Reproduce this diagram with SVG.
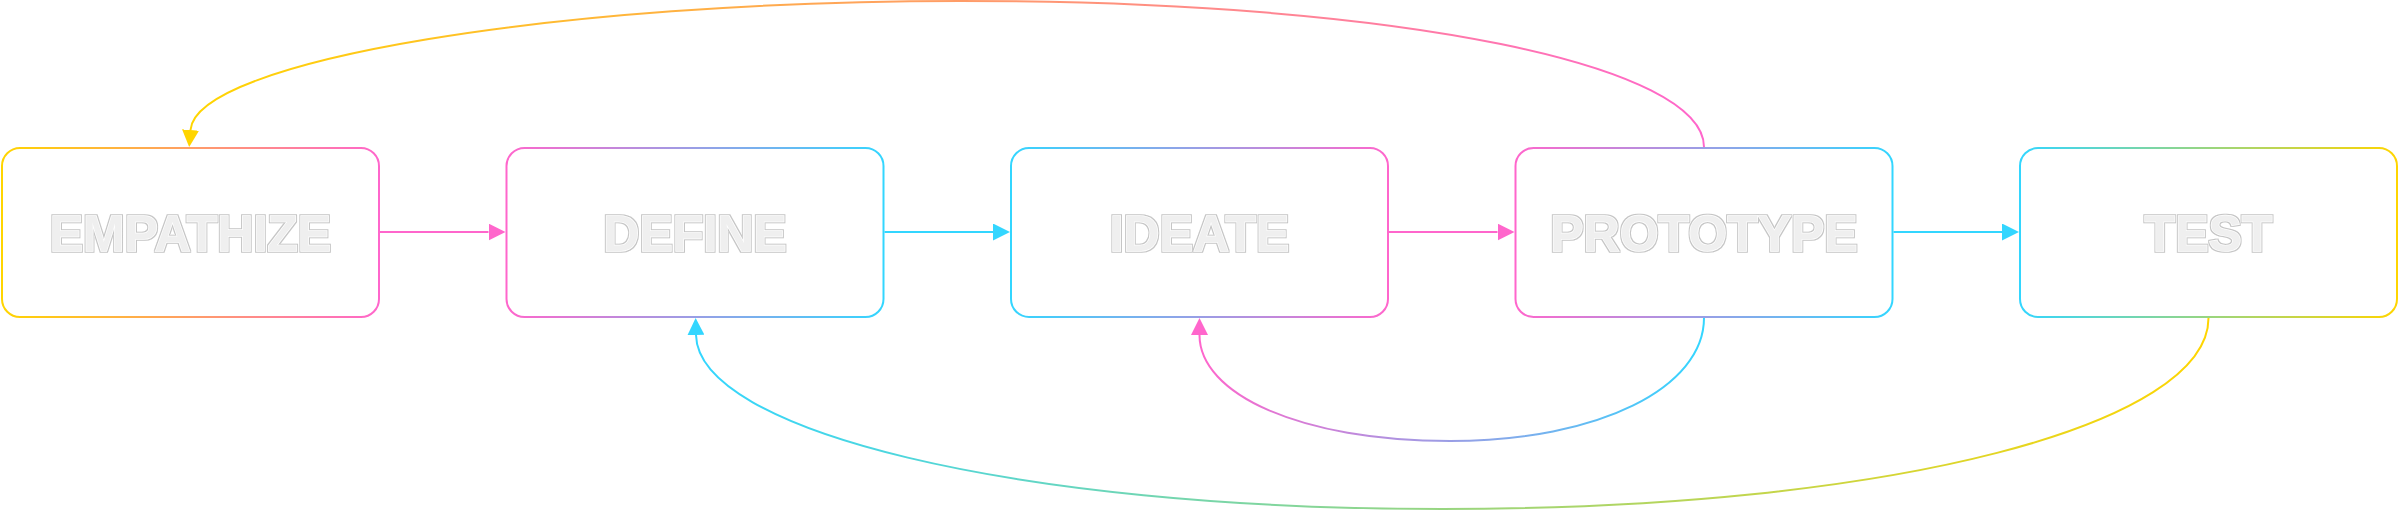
<svg xmlns="http://www.w3.org/2000/svg" width="2400" height="511" viewBox="0 0 2400 511">
  <style>
    .box { fill: #ffffff; stroke-width: 2; }
    .lbl { font-family: "Liberation Sans", Arial, sans-serif; font-weight: 700; font-size: 50px; text-anchor: middle; fill: #efefef; stroke: #ffffff; stroke-width: 1.4; paint-order: stroke; filter: url(#outline); }
    .conn { fill: none; stroke-width: 2; }
  </style>
  <defs>
    <linearGradient id="gYP" x1="0" y1="0" x2="1" y2="0"><stop offset="0" stop-color="#FFD500"/><stop offset="1" stop-color="#FF66CC"/></linearGradient>
    <linearGradient id="gPC" x1="0" y1="0" x2="1" y2="0"><stop offset="0" stop-color="#FF66CC"/><stop offset="1" stop-color="#33D6FF"/></linearGradient>
    <linearGradient id="gCP" x1="0" y1="0" x2="1" y2="0"><stop offset="0" stop-color="#33D6FF"/><stop offset="1" stop-color="#FF66CC"/></linearGradient>
    <linearGradient id="gCY" x1="0" y1="0" x2="1" y2="0"><stop offset="0" stop-color="#33D6FF"/><stop offset="1" stop-color="#FFD500"/></linearGradient>
    <linearGradient id="gTop" gradientUnits="userSpaceOnUse" x1="190" y1="0" x2="1704" y2="0"><stop offset="0" stop-color="#FFD500"/><stop offset="1" stop-color="#FF66CC"/></linearGradient>
    <linearGradient id="gInner" gradientUnits="userSpaceOnUse" x1="1199" y1="0" x2="1704" y2="0"><stop offset="0" stop-color="#FF66CC"/><stop offset="1" stop-color="#33D6FF"/></linearGradient>
    <linearGradient id="gOuter" gradientUnits="userSpaceOnUse" x1="696" y1="0" x2="2208" y2="0"><stop offset="0" stop-color="#33D6FF"/><stop offset="1" stop-color="#FFD500"/></linearGradient>
    <marker id="aP" markerUnits="userSpaceOnUse" markerWidth="17" markerHeight="17" refX="0" refY="8.5" orient="auto"><path d="M0,0 L17,8.5 L0,17 Z" fill="#FF66CC"/></marker>
    <marker id="aC" markerUnits="userSpaceOnUse" markerWidth="17" markerHeight="17" refX="0" refY="8.5" orient="auto"><path d="M0,0 L17,8.5 L0,17 Z" fill="#33D6FF"/></marker>
    <marker id="aY" markerUnits="userSpaceOnUse" markerWidth="17" markerHeight="17" refX="0" refY="8.5" orient="auto"><path d="M0,0 L17,8.5 L0,17 Z" fill="#FFD500"/></marker>
    <filter id="outline" x="-5%" y="-20%" width="110%" height="140%">
      <feMorphology in="SourceAlpha" operator="dilate" radius="0.9" result="d"/>
      <feFlood flood-color="#c6c6c6"/>
      <feComposite in2="d" operator="in" result="o"/>
      <feMerge><feMergeNode in="o"/><feMergeNode in="SourceGraphic"/></feMerge>
    </filter>
  </defs>

  <g id="connectors">
    <line class="conn" x1="380" y1="232" x2="488.5" y2="232" stroke="#FF66CC" marker-end="url(#aP)"/>
    <line class="conn" x1="884.5" y1="232" x2="993" y2="232" stroke="#33D6FF" marker-end="url(#aC)"/>
    <line class="conn" x1="1389" y1="232" x2="1497.5" y2="232" stroke="#FF66CC" marker-end="url(#aP)"/>
    <line class="conn" x1="1893.5" y1="232" x2="2002" y2="232" stroke="#33D6FF" marker-end="url(#aC)"/>
    <path class="conn" stroke="url(#gTop)" marker-end="url(#aY)" d="M 1704 147 C 1704 67, 1410 1, 960 1 C 560 1, 196 60, 190.5 130"/>
    <path class="conn" stroke="url(#gInner)" marker-end="url(#aP)" d="M 1704 318 C 1704 387, 1600 441, 1450 441 C 1300 441, 1199.5 394, 1199.5 335"/>
    <path class="conn" stroke="url(#gOuter)" marker-end="url(#aC)" d="M 2208.5 318 C 2208.5 423, 1900 509, 1442 509 C 1010 509, 698 430, 696 335"/>
  </g>

  <g id="empathize">
    <rect class="box" x="2" y="148" width="377" height="169" rx="18" stroke="url(#gYP)"/>
    <text class="lbl" x="190.5" y="251">EMPATHIZE</text>
  </g>
  <g id="define">
    <rect class="box" x="506.5" y="148" width="377" height="169" rx="18" stroke="url(#gPC)"/>
    <text class="lbl" x="695" y="251">DEFINE</text>
  </g>
  <g id="ideate">
    <rect class="box" x="1011" y="148" width="377" height="169" rx="18" stroke="url(#gCP)"/>
    <text class="lbl" x="1199.5" y="251">IDEATE</text>
  </g>
  <g id="prototype">
    <rect class="box" x="1515.5" y="148" width="377" height="169" rx="18" stroke="url(#gPC)"/>
    <text class="lbl" x="1704" y="251">PROTOTYPE</text>
  </g>
  <g id="test">
    <rect class="box" x="2020" y="148" width="377" height="169" rx="18" stroke="url(#gCY)"/>
    <text class="lbl" x="2208.5" y="251">TEST</text>
  </g>
</svg>
